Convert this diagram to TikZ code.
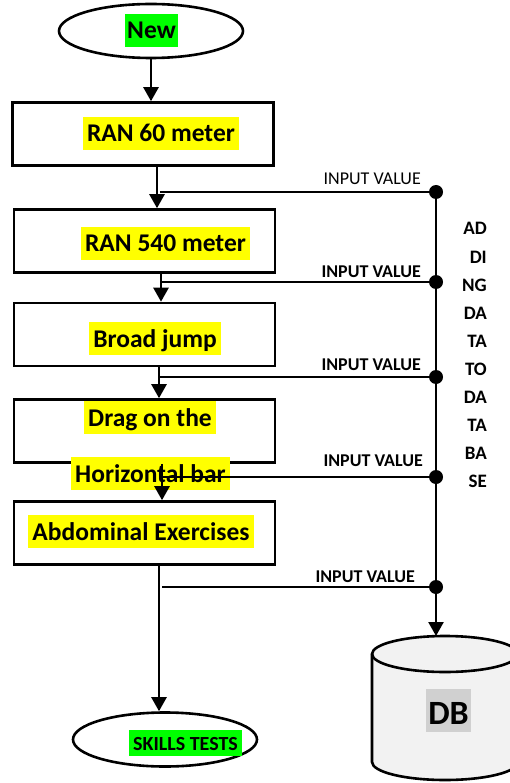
\documentclass[tikz,border=0pt]{standalone}
\usepackage{fontspec}
\setmainfont{Carlito}
\usetikzlibrary{arrows.meta,shapes.geometric}
\definecolor{hlyellow}{HTML}{FFFF00}
\definecolor{hlgreen}{HTML}{00FF00}
\definecolor{hlgray}{HTML}{D0D0D0}
\definecolor{dbfill}{HTML}{F2F2F2}

\begin{document}
\begin{tikzpicture}[x=1pt,y=-1pt,
  stepbox/.style={draw, line width=2.6pt, minimum width=261pt, minimum height=63pt, inner sep=0pt},
  terminal/.style={draw, ellipse, line width=2.6pt, minimum width=184pt, minimum height=54pt, inner sep=0pt},
  mainfont/.style={font=\fontsize{25.5pt}{30pt}\selectfont\bfseries},
  steptext/.style={mainfont, fill=hlyellow, anchor=base, inner xsep=4pt, inner ysep=5pt, text height=20pt, text depth=3pt},
  line/.style={line width=2.5pt},
  flow/.style={line width=2.5pt, -{Triangle[width=15pt,length=14pt]}},
  dot/.style={circle, fill=black, minimum size=14pt, inner sep=0pt},
  inlabel/.style={font=\fontsize{18pt}{22pt}\selectfont, anchor=base east, inner sep=0pt},
  inlabelb/.style={inlabel, font=\fontsize{18pt}{22pt}\selectfont\bfseries},
  coltext/.style={font=\fontsize{19pt}{22pt}\selectfont\bfseries, anchor=base east, inner sep=0pt}]

\useasboundingbox (0,0) rectangle (510,783);
\clip (0,0) rectangle (510,783);
\fill[white] (0,0) rectangle (510,783);

% terminals
\node[terminal] (new) at (151,31) {};
\node[terminal] (sk) at (165,739.5) {};

% process steps
\node[stepbox] (b1) at (143,134) {};
\node[stepbox] (b2) at (144.5,241) {};
\node[stepbox] (b3) at (144.5,334.5) {};
\node[stepbox] (b4) at (144.5,431) {};
\node[stepbox] (b5) at (144.5,533) {};

% database cylinder
\draw[line width=2.6pt, fill=dbfill]
  (372,654) -- (372,762) arc[start angle=180, end angle=360, x radius=73pt, y radius=18pt]
  -- (518,654) arc[start angle=0, end angle=180, x radius=73pt, y radius=18pt] -- cycle;
\draw[line width=2.6pt] (372,654) arc[start angle=180, end angle=360, x radius=73pt, y radius=18pt];
\coordinate (dbtop) at (436,636);

% highlighted labels
\node[steptext, fill=hlgreen, inner xsep=2pt] (tnew) at (151.5,39) {New};
\node[steptext] (t1) at (161,142) {RAN 60 meter};
\node[steptext] (t2) at (165.5,252) {RAN 540 meter};
\node[steptext] (t3) at (155,347) {Broad jump};
\node[steptext] (t4a) at (150,426) {Drag on the};
\node[steptext] (t4b) at (150.5,482) {Horizontal bar};
\node[steptext] (t5) at (141,540) {Abdominal Exercises};
\node[font=\fontsize{20pt}{24pt}\selectfont\bfseries, fill=hlgreen, anchor=base,
      inner xsep=4pt, inner ysep=4pt, text height=16pt, text depth=2pt] (tsk) at (185.5,750) {SKILLS TESTS};
\node[font=\fontsize{34pt}{40pt}\selectfont\bfseries, fill=hlgray, anchor=base,
      inner xsep=2pt, inner ysep=4pt, text height=31pt, text depth=4pt] (tdb) at (448.5,724) {DB};

% data bus junctions
\node[dot] (d1) at (436,192) {};
\node[dot] (d2) at (436,282) {};
\node[dot] (d3) at (436,377) {};
\node[dot] (d4) at (436,477) {};
\node[dot] (d5) at (436,587) {};

% main flow
\draw[flow] (new.south) -- (new.south |- b1.north);
\draw[flow] ([xshift=14pt]b1.south) -- ([xshift=14pt]b1.south |- b2.north);
\draw[flow] ([xshift=16.5pt]b2.south) -- ([xshift=16.5pt]b2.south |- b3.north);
\draw[flow] ([xshift=14.5pt]b3.south) -- ([xshift=14.5pt]b3.south |- b4.north);
\draw[flow] ([xshift=17.5pt]b4.south) -- ([xshift=17.5pt]b4.south |- b5.north);
\draw[flow] ([xshift=14.5pt]b5.south) -- ([xshift=14.5pt]b5.south |- sk.north);

% input value taps
\draw[line] (d1.center) -- ++(-276,0);
\draw[line] (d2.center) -- ++(-275,0);
\draw[line] (d3.center) -- ++(-276,0);
\draw[line] (d4.center) -- ++(-276,0);
\draw[line] (d5.center) -- ++(-274,0);
\draw[line] (d1.center) -- (d5.center);
\draw[flow] (d5.center) -- (dbtop);

\node[inlabel] (l1) at (421,185) {INPUT VALUE};
\node[inlabelb] (l2) at (421,277) {INPUT VALUE};
\node[inlabelb] (l3) at (421,370) {INPUT VALUE};
\node[inlabelb] (l4) at (423,466) {INPUT VALUE};
\node[inlabelb] (l5) at (415,582) {INPUT VALUE};

% vertical caption beside the bus
\foreach \t [count=\i from 0] in {AD,DI,NG,DA,TA,TO,DA,TA,BA,SE}
  \node[coltext] (c\i) at (487,235+28*\i) {\t};
\end{tikzpicture}
\end{document}
